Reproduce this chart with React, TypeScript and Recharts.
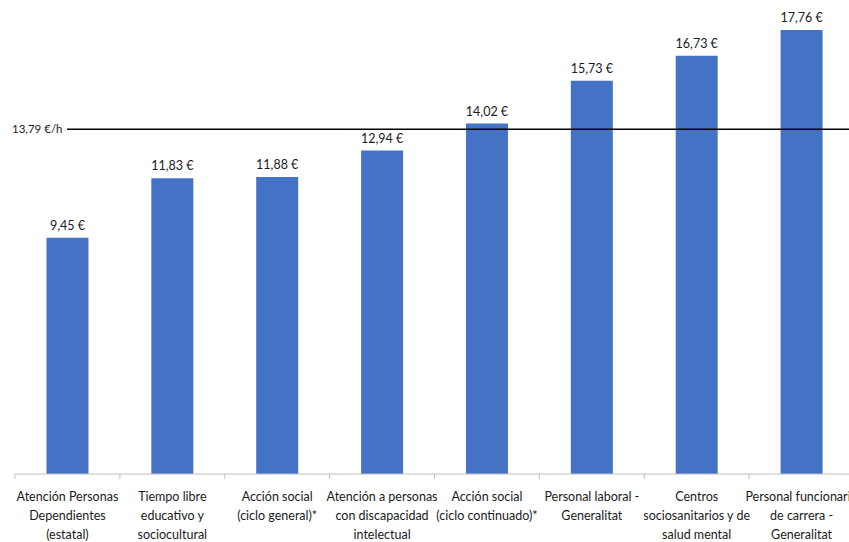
import { BarChart, Bar, XAxis, YAxis, ReferenceLine, LabelList } from "recharts";

const categories = [
  "Atención Personas\nDependientes\n(estatal)",
  "Tiempo libre\neducativo y\nsociocultural",
  "Acción social\n(ciclo general)*",
  "Atención a personas\ncon discapacidad\nintelectual",
  "Acción social\n(ciclo continuado)*",
  "Personal laboral -\nGeneralitat",
  "Centros\nsociosanitarios y de\nsalud mental",
  "Personal funcionario\nde carrera -\nGeneralitat",
];
const hourlyWage = [9.45, 11.83, 11.88, 12.94, 14.02, 15.73, 16.73, 17.76];
const referenceWage = 13.79;

const data = categories.map((name, i) => ({ name, value: hourlyWage[i] }));

const FONT = "Lato, 'Liberation Sans', sans-serif";
const CHART_W = 870;
const MARGIN = { top: 4, right: 16, bottom: 0, left: 15 };
const HALF_BAND = (CHART_W - MARGIN.left - MARGIN.right) / categories.length / 2;

const fmt = (v: number) => `${v.toFixed(2).replace(".", ",")} €`;

function CategoryTick(props: any) {
  const { x, y, payload, index } = props;
  const lines = String(payload.value).split("\n");
  const axisY = y - 8;
  return (
    <g>
      <line x1={x - HALF_BAND} y1={axisY} x2={x - HALF_BAND} y2={axisY + 5} stroke="#bfbfbf" />
      {index === categories.length - 1 && (
        <line x1={x + HALF_BAND} y1={axisY} x2={x + HALF_BAND} y2={axisY + 5} stroke="#bfbfbf" />
      )}
      <text textAnchor="middle" fontFamily={FONT} fontSize={12.5} fill="#1a1a1a">
        {lines.map((l, i) => (
          <tspan key={i} x={x} y={axisY + 27 + i * 19}>
            {l}
          </tspan>
        ))}
      </text>
    </g>
  );
}

function RefShape(props: any) {
  const { x1, y1, x2, y2 } = props;
  return (
    <g>
      <line x1={x1 + 52} y1={y1} x2={x2} y2={y2} stroke="#000" strokeWidth={1.3} />
      <text x={x1 - 3} y={y1 + 4} fontFamily={FONT} fontSize={11.5} fill="#1a1a1a">
        {`${referenceWage.toFixed(2).replace(".", ",")} €/h`}
      </text>
    </g>
  );
}

function ValueLabel(props: any) {
  const { x, y, width, value } = props;
  return (
    <text x={x + width / 2} y={y - 8} textAnchor="middle" fontFamily={FONT} fontSize={12.5} fill="#1a1a1a">
      {fmt(Number(value))}
    </text>
  );
}

export default function App() {
  return (
    <div style={{ position: "absolute", left: 0, top: 0, width: 849, height: 542, overflow: "hidden", background: "#fff" }}>
      <BarChart width={CHART_W} height={542} data={data} margin={MARGIN} barCategoryGap="30%">
        <XAxis
          dataKey="name"
          height={68}
          axisLine={{ stroke: "#bfbfbf" }}
          tickLine={false}
          tick={<CategoryTick />}
          interval={0}
        />
        <YAxis hide domain={[0, 18.8]} />
        <ReferenceLine y={referenceWage} shape={<RefShape />} ifOverflow="visible" />
        <Bar dataKey="value" fill="#4472C4" isAnimationActive={false}>
          <LabelList dataKey="value" content={<ValueLabel />} />
        </Bar>
      </BarChart>
    </div>
  );
}
